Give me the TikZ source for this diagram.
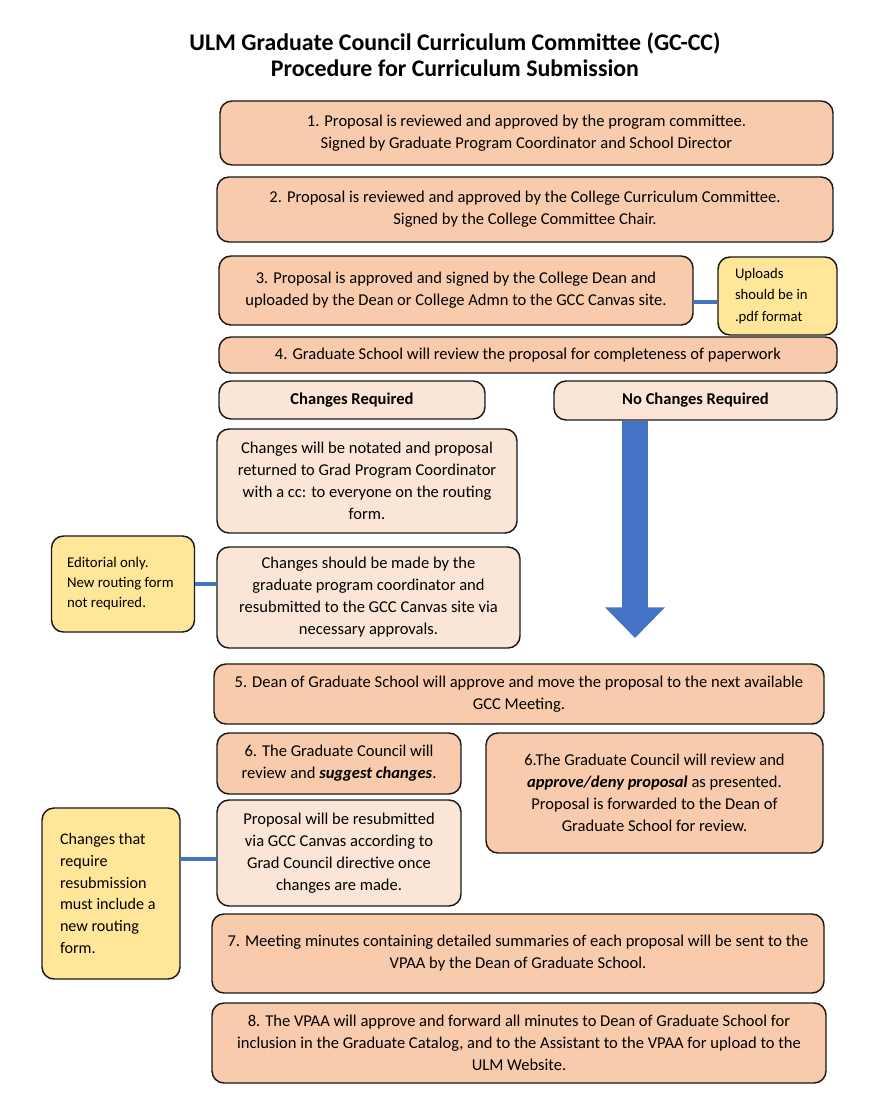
\documentclass[tikz,border=0pt]{standalone}
\usepackage{fontspec}
\setmainfont{Carlito}
\usepackage{tikz}
\usetikzlibrary{arrows.meta,positioning}
\definecolor{peach}{RGB}{248,203,173}
\definecolor{lightpeach}{RGB}{251,229,214}
\definecolor{noteyellow}{RGB}{255,230,153}
\definecolor{linkblue}{RGB}{68,114,196}
\tikzset{
  sz/.style 2 args={minimum width=#1*0.75pt, minimum height=#2*0.75pt},
  stagebox/.style={draw=black!90, line width=1.1pt, rounded corners=9pt, fill=peach,
    align=center, inner sep=0pt, font=\fontsize{12.4}{16.5}\selectfont},
  lightbox/.style={stagebox, fill=lightpeach},
  notebox/.style={stagebox, fill=noteyellow, align=flush left, text width=#1*0.75pt},
  link/.style={draw=linkblue, line width=3pt},
  flowarrow/.style={draw=linkblue, fill=linkblue, line width=19.5pt,
    -{Triangle[width=43.5pt,length=23pt]}}
}

\begin{document}
\begin{tikzpicture}[x=0.75pt,y=-0.75pt]
      \useasboundingbox (0,0) rectangle (880,1120);
      \node[font=\fontsize{17.9}{19.5}\selectfont\bfseries, align=center] at (455,55) (title)
        {ULM Graduate Council Curriculum Committee (GC-CC)\\Procedure for Curriculum Submission};
      \node[stagebox, sz={613}{64}] at (526.5,133) (s1)
        {1. Proposal is reviewed and approved by the program committee.\\
         Signed by Graduate Program Coordinator and School Director};
      \node[stagebox, sz={616}{65}] at (525,209.5) (s2)
        {2. Proposal is reviewed and approved by the College Curriculum Committee.\\
         Signed by the College Committee Chair.};
      \node[stagebox, sz={474}{69}] at (456,290.5) (s3)
        {3. Proposal is approved and signed by the College Dean and\\
         uploaded by the Dean or College Admn to the GCC Canvas site.};
      \node[notebox=85, sz={119}{78}, font=\fontsize{11}{16}\selectfont] at (777.5,296) (pdf)
        {Uploads\\should be in\\.pdf format};
      \node[stagebox, sz={618}{36}] at (528,355) (s4)
        {4. Graduate School will review the proposal for completeness of paperwork};
      \node[lightbox, sz={266}{38}, font=\fontsize{12.4}{16.5}\selectfont\bfseries] at (352,400) (req)
        {Changes Required};
      \node[lightbox, sz={283}{39}, font=\fontsize{12.4}{16.5}\selectfont\bfseries] at (695.5,400.5) (noreq)
        {No Changes Required};
      \node[lightbox, sz={300}{104}] at (367,481) (notated)
        {Changes will be notated and proposal\\
         returned to Grad Program Coordinator\\
         with a cc: to everyone on the routing\\
         form.};
      \node[lightbox, sz={303}{101}] at (368.5,597.5) (resubmit)
        {Changes should be made by the\\
         graduate program coordinator and\\
         resubmitted to the GCC Canvas site via\\
         necessary approvals.};
      \node[notebox=112, sz={143}{96}, font=\fontsize{11.1}{15}\selectfont] at (123,584) (editorial)
        {Editorial only.\\New routing form\\not required.};
      \coordinate (tip) at (635,638);
      \node[stagebox, sz={610}{60}] at (519,694) (s5)
        {5. Dean of Graduate School will approve and move the proposal to the next available\\
         GCC Meeting.};
      \node[stagebox, sz={244}{61}] at (339,763.5) (s6a)
        {6. The Graduate Council will\\
         review and \textbf{\textit{suggest changes}}.};
      \node[stagebox, sz={337}{120}] at (654.5,793) (s6b)
        {6.The Graduate Council will review and\\
         \textbf{\textit{approve/deny proposal}} as presented.\\
         Proposal is forwarded to the Dean of\\
         Graduate School for review.};
      \node[lightbox, sz={244}{106}] at (339,853) (again)
        {Proposal will be resubmitted\\
         via GCC Canvas according to\\
         Grad Council directive once\\
         changes are made.};
      \node[notebox=102, sz={138}{171}, font=\fontsize{12.1}{16.4}\selectfont] at (111,893.5) (routing)
        {Changes that\\require\\resubmission\\must include a\\new routing\\form.};
      \node[stagebox, sz={612}{79}] at (518,953.5) (s7)
        {7. Meeting minutes containing detailed summaries of each proposal will be sent to the\\
         VPAA by the Dean of Graduate School.};
      \node[stagebox, sz={614}{80}] at (519,1043) (s8)
        {8. The VPAA will approve and forward all minutes to Dean of Graduate School for\\
         inclusion in the Graduate Catalog, and to the Assistant to the VPAA for upload to the\\
         ULM Website.};
      \draw[link] (s3.east |- 0,302) -- (pdf.west |- 0,302);
      \draw[link] (editorial.east) -- (editorial.east -| resubmit.west);
      \draw[link] (routing.east |- 0,859) -- (again.west |- 0,859);
      \draw[flowarrow] (tip |- noreq.south) -- (tip);
    \end{tikzpicture}
\end{document}
